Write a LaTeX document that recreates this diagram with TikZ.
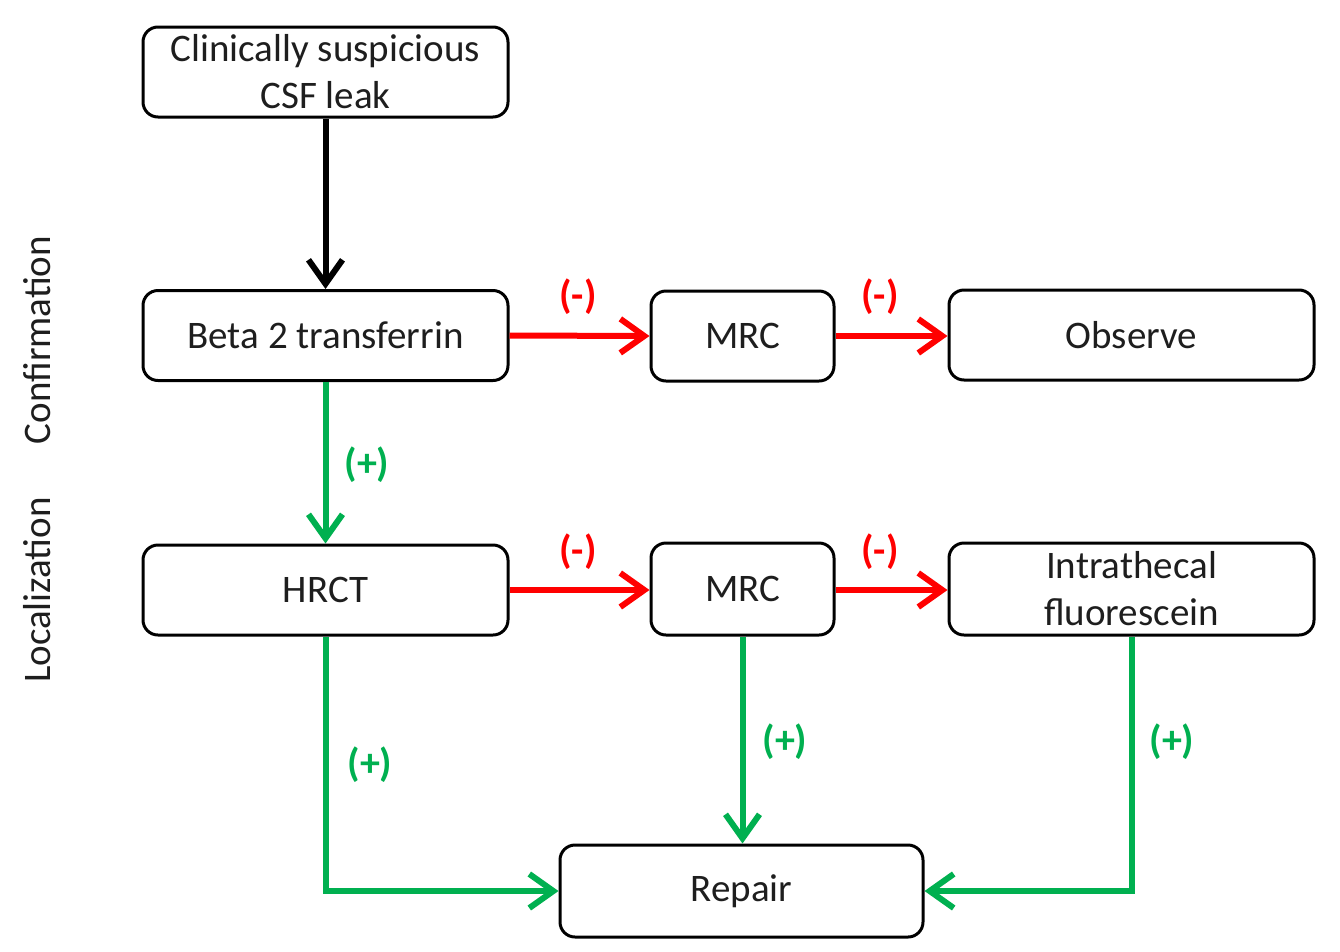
\documentclass[tikz,border=0pt]{standalone}
\usepackage{fontspec}
\setmainfont{Carlito}
\usetikzlibrary{arrows.meta}
\definecolor{myred}{RGB}{255,0,0}
\definecolor{mygreen}{RGB}{0,176,80}
\definecolor{txt}{RGB}{30,30,30}
\tikzset{
  box/.style={draw=black, line width=3pt, rounded corners=15pt, fill=white,
    text=txt, font=\fontsize{39}{47}\selectfont, align=center, inner sep=0pt},
  conn/.style={line width=6pt, -{Straight Barb[length=24pt,width=34pt,line width=6pt]}},
  negarrow/.style={conn, draw=myred},
  posarrow/.style={conn, draw=mygreen},
  lab/.style={font=\bfseries\fontsize{40}{44}\selectfont},
  neglab/.style={lab, text=myred},
  poslab/.style={lab, text=mygreen},
  side/.style={rotate=90, text=txt, font=\fontsize{39}{46}\selectfont}
}
\begin{document}
\begin{tikzpicture}[x=1pt,y=-1pt]
\useasboundingbox[fill=white] (0,0) rectangle (1340,951);
% boxes
\node[box, minimum width=365pt, minimum height=90pt] (clin) at (325.5,72) {Clinically suspicious\\CSF leak};
\node[box, minimum width=365pt, minimum height=90pt] (beta) at (325.5,335.5) {Beta 2 transferrin};
\node[box, minimum width=183pt, minimum height=90pt] (mrc1) at (742.5,336) {MRC};
\node[box, minimum width=365pt, minimum height=90pt] (obs) at (1131.5,335) {Observe};
\node[box, minimum width=365pt, minimum height=90pt] (hrct) at (325.5,590) {HRCT};
\node[box, minimum width=183pt, minimum height=92pt] (mrc2) at (742.5,589) {MRC};
\node[box, minimum width=365pt, minimum height=92pt] (intra) at (1131.5,589) {Intrathecal\\fluorescein};
\node[box, minimum width=363pt, minimum height=92pt] (rep) at (741.5,891) {Repair};
% side labels
\node[side] (conf) at (37,340) {Confirmation};
\node[side] (loc) at (37,590) {Localization};
% connectors
\draw[conn, draw=black] (clin.south) -- (beta.north);
\draw[negarrow] (beta.east) -- (mrc1.west);
\draw[negarrow] (mrc1.east) -- (obs.west |- mrc1.east);
\draw[negarrow] (hrct.east) -- (mrc2.west |- hrct.east);
\draw[negarrow] (mrc2.east |- hrct.east) -- (intra.west |- hrct.east);
\draw[posarrow] (beta.south) -- (hrct.north);
\draw[posarrow] (hrct.south) |- (rep.west);
\draw[posarrow] (mrc2.south) -- (rep.north -| mrc2.south);
\draw[posarrow] (intra.south) |- (rep.east);
% labels
\node[neglab] (n1) at (578,297) {(-)};
\node[neglab] (n2) at (880,297) {(-)};
\node[neglab] (n3) at (578,552) {(-)};
\node[neglab] (n4) at (880,552) {(-)};
\node[poslab] (p1) at (367,465) {(+)};
\node[poslab] (p2) at (370,765) {(+)};
\node[poslab] (p3) at (785,742) {(+)};
\node[poslab] (p4) at (1172,742) {(+)};
\end{tikzpicture}
\end{document}
